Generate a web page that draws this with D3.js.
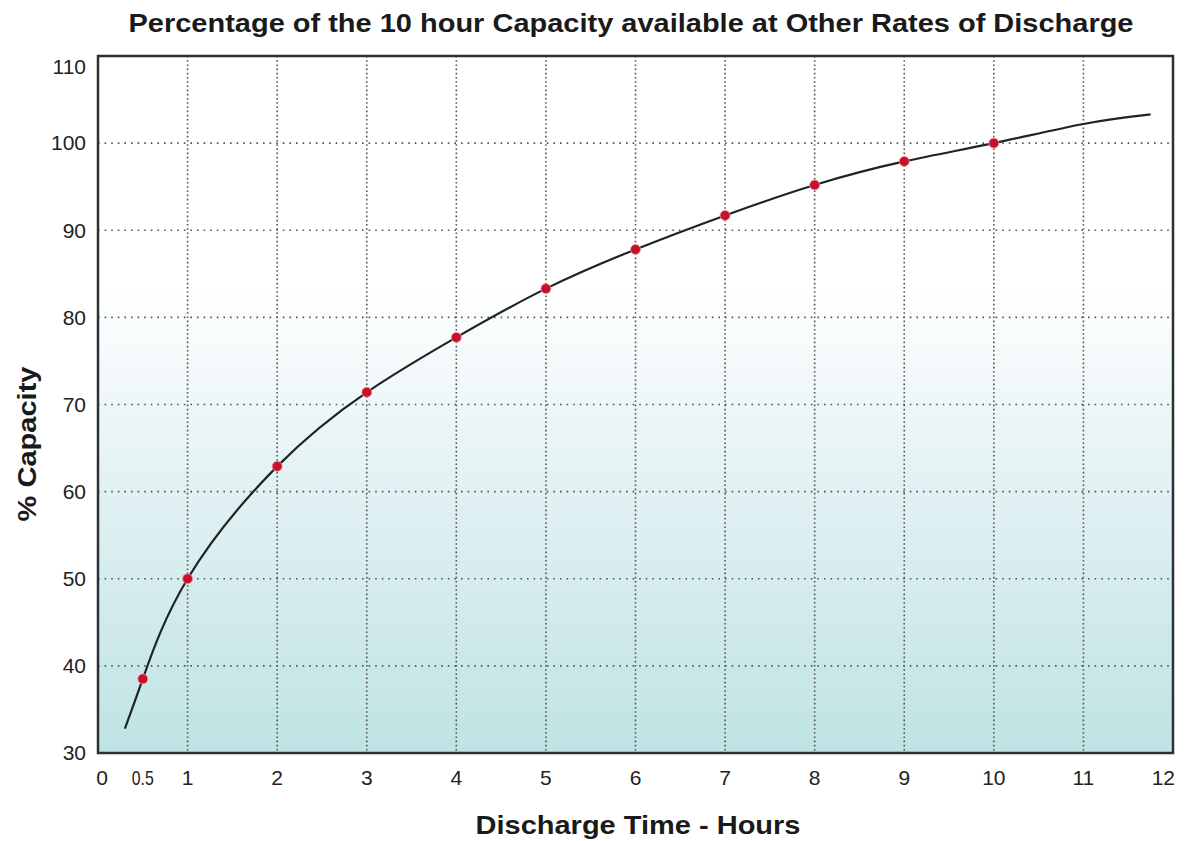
<!DOCTYPE html>
<html><head><meta charset="utf-8">
<script src="https://cdn.jsdelivr.net/npm/d3@7"></script>
<style>body{margin:0;background:#fff;font-family:"Liberation Sans",Arial,sans-serif}</style>
</head><body><svg id="c" width="1189" height="841"></svg>
<script>
const title = "Percentage of the 10 hour Capacity available at Other Rates of Discharge";
const xLabel = "Discharge Time - Hours";
const yLabel = "% Capacity";
const xTicks = [0, 0.5, 1, 2, 3, 4, 5, 6, 7, 8, 9, 10, 11, 12];
const xGrid = [1, 2, 3, 4, 5, 6, 7, 8, 9, 10, 11];
const yTicks = [30, 40, 50, 60, 70, 80, 90, 100, 110];
const yGrid = [40, 50, 60, 70, 80, 90, 100];
const pointHours = [0.5, 1, 2, 3, 4, 5, 6, 7, 8, 9, 10];
const pointCapacity = [38.5, 50, 62.9, 71.4, 77.7, 83.3, 87.8, 91.7, 95.2, 97.9, 100];
const curveHours = [0.3, 0.5, 1, 2, 3, 4, 5, 6, 7, 8, 9, 10, 11, 11.75];
const curveCapacity = [32.8, 38.5, 50, 62.9, 71.4, 77.7, 83.3, 87.8, 91.7, 95.2, 97.9, 100, 102.2, 103.3];

const svg = d3.select("#c");
const x = d3.scaleLinear().domain([0, 12]).range([98, 1173]);
const y = d3.scaleLinear().domain([30, 110]).range([753, 56]);

const defs = svg.append("defs");
const grad = defs.append("linearGradient").attr("id", "bg").attr("x1", 0).attr("y1", 0).attr("x2", 0).attr("y2", 1);
grad.append("stop").attr("offset", "0").attr("stop-color", "#ffffff");
grad.append("stop").attr("offset", "0.33").attr("stop-color", "#ffffff");
grad.append("stop").attr("offset", "0.62").attr("stop-color", "#e2f1f3");
grad.append("stop").attr("offset", "1").attr("stop-color", "#bfe3e4");

svg.append("rect").attr("x", x(0)).attr("y", y(110)).attr("width", x(12) - x(0)).attr("height", y(30) - y(110)).attr("fill", "url(#bg)");

// grid
svg.append("g").selectAll("line").data(xGrid).join("line")
  .attr("x1", d => x(d)).attr("x2", d => x(d)).attr("y1", y(110)).attr("y2", y(30))
  .attr("stroke", "#555").attr("stroke-width", 1.6).attr("stroke-dasharray", "1.6,2.6");
svg.append("g").selectAll("line").data(yGrid).join("line")
  .attr("y1", d => y(d)).attr("y2", d => y(d)).attr("x1", x(0)).attr("x2", x(12))
  .attr("stroke", "#555").attr("stroke-width", 1.6).attr("stroke-dasharray", "1.6,5");

// frame
svg.append("rect").attr("x", x(0)).attr("y", y(110)).attr("width", x(12) - x(0)).attr("height", y(30) - y(110))
  .attr("fill", "none").attr("stroke", "#2b3236").attr("stroke-width", 2.5);

// curve
const curveData = curveHours.map((h, i) => [h, curveCapacity[i]]);
svg.append("path").datum(curveData)
  .attr("d", d3.line().x(d => x(d[0])).y(d => y(d[1])).curve(d3.curveNatural))
  .attr("fill", "none").attr("stroke", "#1e2424").attr("stroke-width", 2.2);

// points
svg.append("g").selectAll("circle").data(pointHours.map((h, i) => [h, pointCapacity[i]])).join("circle")
  .attr("cx", d => x(d[0])).attr("cy", d => y(d[1])).attr("r", 5)
  .attr("fill", "#c8102e").attr("stroke", "#f0a0a0").attr("stroke-width", 0.8);

// y tick labels
svg.append("g").selectAll("text").data(yTicks).join("text")
  .attr("x", 86).attr("y", d => y(d) + (d === 110 ? 11 : 0)).attr("dy", "0.35em")
  .attr("text-anchor", "end").attr("font-size", 21).attr("fill", "#222").text(d => d);

// x tick labels
svg.append("g").selectAll("text").data(xTicks).join("text")
  .attr("x", d => d === 12 ? x(d) + 2 : (d === 0 ? x(d) + 4 : x(d)))
  .attr("y", 785)
  .attr("text-anchor", d => d === 12 ? "end" : "middle")
  .attr("font-size", 21)
  .attr("textLength", d => d === 0.5 ? 22 : null)
  .attr("lengthAdjust", "spacingAndGlyphs")
  .attr("fill", "#222").text(d => d);

// title and axis labels
svg.append("text").attr("x", 631).attr("y", 32).attr("text-anchor", "middle")
  .attr("font-size", 26).attr("font-weight", "bold").attr("fill", "#1a1a1a")
  .attr("textLength", 1005).attr("lengthAdjust", "spacingAndGlyphs").text(title);
svg.append("text").attr("x", 638).attr("y", 834).attr("text-anchor", "middle")
  .attr("font-size", 26).attr("font-weight", "bold").attr("fill", "#1a1a1a")
  .attr("textLength", 325).attr("lengthAdjust", "spacingAndGlyphs").text(xLabel);
svg.append("text").attr("transform", "translate(36,444) rotate(-90)").attr("text-anchor", "middle")
  .attr("font-size", 26).attr("font-weight", "bold").attr("fill", "#1a1a1a")
  .attr("textLength", 155).attr("lengthAdjust", "spacingAndGlyphs").text(yLabel);
</script></body></html>
